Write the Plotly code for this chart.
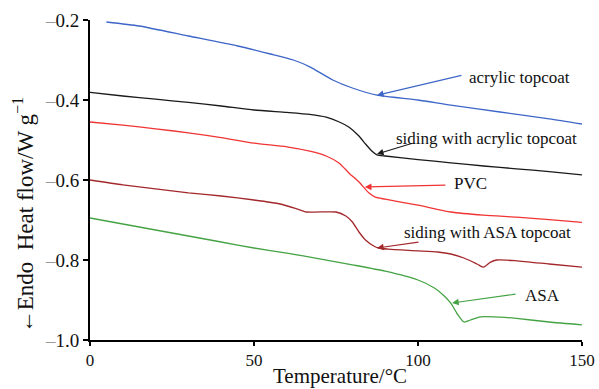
import plotly.graph_objects as go

# ---- data ----
acrylic_T = [5, 15, 30, 45, 55, 62, 67, 74, 80, 87.5, 100, 110, 125, 140, 150]
acrylic_v = [-0.205, -0.215, -0.24, -0.265, -0.285, -0.30, -0.317, -0.35, -0.37, -0.388, -0.40, -0.413, -0.43, -0.447, -0.46]

siding_acr_T = [0, 10, 20, 30, 40, 50, 60, 67, 72, 76, 79, 82, 84, 86, 87.5, 90, 100, 110, 120, 130, 140, 150]
siding_acr_v = [-0.381, -0.39, -0.398, -0.406, -0.415, -0.425, -0.431, -0.436, -0.443, -0.455, -0.468, -0.49, -0.51, -0.528, -0.537, -0.54, -0.549, -0.557, -0.565, -0.572, -0.579, -0.587]

pvc_T = [0, 10, 20, 30, 40, 50, 60, 67, 72, 76, 79, 82, 85, 87, 90, 100, 110, 120, 130, 140, 150]
pvc_v = [-0.455, -0.463, -0.472, -0.482, -0.494, -0.508, -0.517, -0.528, -0.54, -0.558, -0.583, -0.605, -0.632, -0.643, -0.648, -0.663, -0.68, -0.688, -0.693, -0.699, -0.706]

siding_asa_T = [0, 10, 20, 30, 40, 50, 58, 63, 66, 75, 78, 80, 82, 84, 86.5, 88, 91, 100, 106, 110, 114, 118, 120, 122, 124, 130, 140, 150]
siding_asa_v = [-0.60, -0.612, -0.622, -0.632, -0.64, -0.65, -0.66, -0.672, -0.68, -0.68, -0.69, -0.705, -0.73, -0.75, -0.765, -0.77, -0.773, -0.777, -0.78, -0.785, -0.795, -0.81, -0.818, -0.806, -0.80, -0.802, -0.81, -0.818]

asa_T = [0, 10, 20, 30, 40, 50, 60, 70, 80, 90, 100, 105, 108, 110, 112, 114, 116, 119, 125, 130, 140, 150]
asa_v = [-0.695, -0.71, -0.725, -0.74, -0.755, -0.77, -0.783, -0.797, -0.812, -0.828, -0.85, -0.87, -0.89, -0.908, -0.935, -0.955, -0.95, -0.942, -0.943, -0.946, -0.955, -0.962]

x_ticks = [0, 50, 100, 150]
y_ticks = [-1.0, -0.8, -0.6, -0.4, -0.2]
y_ticklabels = ["1.0", "0.8", "0.6", "0.4", "0.2"]

labels = ["acrylic topcoat", "siding with acrylic topcoat", "PVC", "siding with ASA topcoat", "ASA"]
label_pos = [(114.9, -0.3425), (92.7, -0.495), (110.4, -0.6075), (95.1, -0.73), (132.0, -0.8875)]
arrow_head = [(87.5, -0.388), (87.5, -0.535), (83.8, -0.6175), (87.5, -0.77), (110.4, -0.9075)]
arrow_tail = [(113.7, -0.3375), (98.5, -0.5075), (108.8, -0.6125), (100.6, -0.755), (130.2, -0.885)]

colors = ["#3d66c8", "#1a1a1a", "#f03434", "#a3282c", "#45a345"]
series = [(acrylic_T, acrylic_v), (siding_acr_T, siding_acr_v), (pvc_T, pvc_v),
          (siding_asa_T, siding_asa_v), (asa_T, asa_v)]

FONT = "Liberation Serif, Times New Roman, serif"

fig = go.Figure()
for (t, v), c in zip(series, colors):
    fig.add_trace(go.Scatter(x=t, y=v, mode="lines",
                             line=dict(color=c, width=1.3, shape="spline", smoothing=0.6),
                             showlegend=False, hoverinfo="skip"))

for lab, (lx, ly), (hx, hy), (tx, ty), c in zip(labels, label_pos, arrow_head, arrow_tail, colors):
    fig.add_annotation(x=hx, y=hy, ax=tx, ay=ty, xref="x", yref="y", axref="x", ayref="y",
                       text="", showarrow=True, arrowhead=2, arrowsize=1.1, arrowwidth=1.2,
                       arrowcolor=c)
    fig.add_annotation(x=lx, y=ly, xref="x", yref="y", text=lab, showarrow=False,
                       xanchor="left", yanchor="middle",
                       font=dict(family=FONT, size=17, color="#111"))

# axis titles
fig.add_annotation(x=-0.136, y=0.39, xref="paper", yref="paper",
                   text="←Endo  Heat flow/W g<sup>−1</sup>", textangle=-90, showarrow=False,
                   xanchor="center", yanchor="middle",
                   font=dict(family=FONT, size=23, color="#111"))
fig.add_annotation(x=0.508, y=-0.113, xref="paper", yref="paper",
                   text="Temperature/°C", showarrow=False,
                   xanchor="center", yanchor="middle",
                   font=dict(family=FONT, size=21, color="#111"))

fig.update_xaxes(range=[0, 150], tickvals=x_ticks, ticks="outside", ticklen=4, tickwidth=1.5,
                 tickcolor="black", showline=True, linecolor="black", linewidth=2,
                 showgrid=False, zeroline=False, automargin=False,
                 tickfont=dict(family=FONT, size=17, color="#111"))
fig.update_yaxes(range=[-1.0, -0.2], tickvals=y_ticks,
                 ticktext=["<span style='color:#999'>–</span>" + s for s in y_ticklabels],
                 ticks="outside", ticklen=5, tickwidth=1.5, tickcolor="black",
                 showline=True, linecolor="black", linewidth=2, showgrid=False, zeroline=False,
                 automargin=False,
                 tickfont=dict(family=FONT, size=19, color="#111"))

fig.update_layout(width=599, height=389, margin=dict(l=90, r=17, t=20, b=49),
                  plot_bgcolor="white", paper_bgcolor="white")

fig.write_html("out.html")
